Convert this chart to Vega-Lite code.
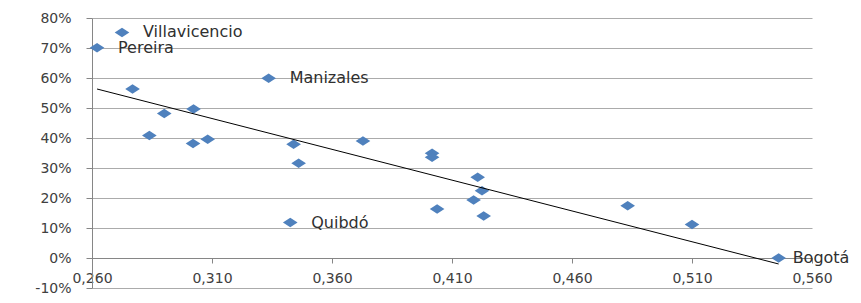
{
  "$schema": "https://vega.github.io/schema/vega-lite/v6.json",
  "width": 720,
  "height": 270,
  "autosize": {"type": "none"},
  "padding": {"left": 92, "top": 18, "right": 49, "bottom": 15},
  "background": "white",
  "config": {"view": {"stroke": null}, "font": "DejaVu Sans"},
  "data": {
    "values": [
      {"indice": 0.2725, "porcentaje": 0.752, "ciudad": "Villavicencio"},
      {"indice": 0.2621, "porcentaje": 0.701, "ciudad": "Pereira"},
      {"indice": 0.2769, "porcentaje": 0.563, "ciudad": ""},
      {"indice": 0.2901, "porcentaje": 0.482, "ciudad": ""},
      {"indice": 0.3023, "porcentaje": 0.497, "ciudad": ""},
      {"indice": 0.2839, "porcentaje": 0.408, "ciudad": ""},
      {"indice": 0.3021, "porcentaje": 0.382, "ciudad": ""},
      {"indice": 0.3082, "porcentaje": 0.396, "ciudad": ""},
      {"indice": 0.344, "porcentaje": 0.379, "ciudad": ""},
      {"indice": 0.3336, "porcentaje": 0.599, "ciudad": "Manizales"},
      {"indice": 0.3729, "porcentaje": 0.39, "ciudad": ""},
      {"indice": 0.3461, "porcentaje": 0.316, "ciudad": ""},
      {"indice": 0.3426, "porcentaje": 0.118, "ciudad": "Quibdó"},
      {"indice": 0.4017, "porcentaje": 0.349, "ciudad": ""},
      {"indice": 0.4017, "porcentaje": 0.336, "ciudad": ""},
      {"indice": 0.4207, "porcentaje": 0.269, "ciudad": ""},
      {"indice": 0.4225, "porcentaje": 0.224, "ciudad": ""},
      {"indice": 0.419, "porcentaje": 0.193, "ciudad": ""},
      {"indice": 0.4038, "porcentaje": 0.163, "ciudad": ""},
      {"indice": 0.4232, "porcentaje": 0.14, "ciudad": ""},
      {"indice": 0.4832, "porcentaje": 0.174, "ciudad": ""},
      {"indice": 0.51, "porcentaje": 0.112, "ciudad": ""},
      {"indice": 0.5461, "porcentaje": 0.0, "ciudad": "Bogotá"}
    ]
  },
  "encoding": {
    "x": {
      "field": "indice",
      "type": "quantitative",
      "scale": {"domain": [0.26, 0.56], "nice": false, "zero": false},
      "axis": {
        "title": null,
        "values": [0.26, 0.31, 0.36, 0.41, 0.46, 0.51, 0.56],
        "labelExpr": "replace(format(datum.value, '.3f'), '.', ',')",
        "grid": false,
        "offset": -30,
        "domainColor": "#868686",
        "tickColor": "#868686",
        "tickSize": 5,
        "labelPadding": 8,
        "labelFontSize": 14,
        "labelColor": "#404040",
        "labelFlush": false,
        "labelOverlap": false,
        "labelBound": false
      }
    },
    "y": {
      "field": "porcentaje",
      "type": "quantitative",
      "scale": {"domain": [-0.1, 0.8], "nice": false, "zero": false},
      "axis": {
        "title": null,
        "values": [-0.1, 0, 0.1, 0.2, 0.3, 0.4, 0.5, 0.6, 0.7, 0.8],
        "labelExpr": "replace(format(datum.value, '.0%'), '−', '-')",
        "grid": true,
        "gridColor": "#ABABAB",
        "gridOpacity": 1,
        "domain": true,
        "domainColor": "#868686",
        "tickColor": "#868686",
        "tickSize": 6,
        "labelPadding": 15,
        "labelFontSize": 14,
        "labelColor": "#404040",
        "labelFlush": false,
        "labelOverlap": false,
        "labelBound": false
      }
    }
  },
  "layer": [
    {
      "mark": {
        "type": "point",
        "shape": "M-1,0L0,-0.65L1,0L0,0.65Z",
        "filled": true,
        "color": "#4F81BD",
        "opacity": 1,
        "size": 215
      }
    },
    {
      "transform": [{"regression": "porcentaje", "on": "indice"}],
      "mark": {"type": "line", "color": "#000000", "strokeWidth": 1}
    },
    {
      "transform": [{"filter": "datum.ciudad != '' && datum.ciudad != 'Bogotá'"}],
      "mark": {"type": "text", "align": "left", "baseline": "middle", "dx": 21, "fontSize": 16, "color": "#303030"},
      "encoding": {"text": {"field": "ciudad"}}
    },
    {
      "transform": [{"filter": "datum.ciudad == 'Bogotá'"}],
      "mark": {"type": "text", "align": "left", "baseline": "middle", "dx": 14, "fontSize": 16, "color": "#303030"},
      "encoding": {"text": {"field": "ciudad"}}
    }
  ]
}
